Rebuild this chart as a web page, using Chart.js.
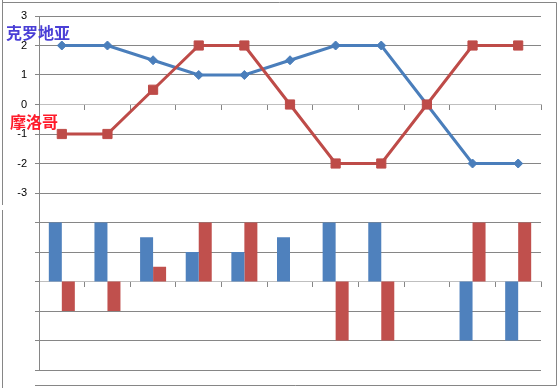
<!DOCTYPE html>
<html>
<head>
<meta charset="utf-8">
<script src="https://cdn.jsdelivr.net/npm/chart.js@4/dist/chart.umd.min.js"></script>
<style>
    html, body { margin: 0; padding: 0; background: #fff; }
    #wrap { position: relative; width: 560px; height: 388px; }
</style>
</head>
<body>
<div id="wrap"><canvas id="match_chart" width="560" height="388"></canvas></div>
<script>
// 11 jogos / pontos
var categories = ["1", "2", "3", "4", "5", "6", "7", "8", "9", "10", "11"];
var croatia = [2, 2, 1.5, 1, 1, 1.5, 2, 2, 0, -2, -2];
var morocco = [-1, -1, 0.5, 2, 2, 0, -2, -2, 0, 2, 2];
var yTicks = [-3, -2, -1, 0, 1, 2, 3];
var seriesNames = ["克罗地亚", "摩洛哥"];

var gridGray = '#868686';

// desenha moldura e nomes das equipas
var frame = {
    id: 'frame',
    afterDraw: function (chart) {
        var ctx = chart.ctx;
        ctx.save();
        ctx.strokeStyle = gridGray;
        ctx.lineWidth = 1;
        ctx.beginPath();
        ctx.moveTo(2.5, 0); ctx.lineTo(2.5, 205);
        ctx.moveTo(2.5, 210); ctx.lineTo(2.5, 388);
        ctx.moveTo(2, 2.5); ctx.lineTo(556.5, 2.5);
        ctx.lineTo(556.5, 385.5);
        ctx.lineTo(35, 385.5);
        ctx.stroke();

        ctx.font = 'bold 16px "Noto Sans CJK SC"';
        ctx.textBaseline = 'middle';
        ctx.textAlign = 'left';
        ctx.fillStyle = '#4a3fd6';
        ctx.fillText(seriesNames[0], 6, 33);
        ctx.fillStyle = '#ff1a2a';
        ctx.fillText(seriesNames[1], 10, 122);
        ctx.restore();
    }
};

var ctx = document.getElementById("match_chart").getContext('2d');

var myChart = new Chart(ctx, {
    data: {
        labels: categories,
        datasets: [{
            type: 'line',
            label: seriesNames[0],
            data: croatia,
            yAxisID: 'y',
            borderColor: '#4a7ebb',
            backgroundColor: '#4a7ebb',
            borderWidth: 3,
            pointStyle: 'rectRot',
            pointRadius: 4.5,
            pointBorderWidth: 1,
            tension: 0,
            order: 1
        }, {
            type: 'line',
            label: seriesNames[1],
            data: morocco,
            yAxisID: 'y',
            borderColor: '#be4b48',
            backgroundColor: '#be4b48',
            borderWidth: 3,
            pointStyle: 'rect',
            pointRadius: 6.5,
            pointBorderWidth: 1,
            tension: 0,
            order: 0
        }, {
            type: 'bar',
            label: seriesNames[0],
            data: croatia,
            yAxisID: 'yb',
            backgroundColor: '#4f81bd',
            categoryPercentage: 0.57,
            barPercentage: 1,
            order: 2
        }, {
            type: 'bar',
            label: seriesNames[1],
            data: morocco,
            yAxisID: 'yb',
            backgroundColor: '#c0504d',
            categoryPercentage: 0.57,
            barPercentage: 1,
            order: 2
        }]
    },
    options: {
        responsive: false,
        animation: false,
        devicePixelRatio: 1,
        layout: { padding: { left: 0, right: 19, top: 16, bottom: 18 } },
        plugins: { legend: { display: false }, tooltip: { enabled: false } },
        scales: {
            x: {
                type: 'category',
                position: { y: 0 },
                offset: true,
                grid: { offset: true, drawOnChartArea: false, drawTicks: true, tickLength: 5, color: gridGray },
                border: { color: '#bfbfbf' },
                ticks: { display: false }
            },
            x2: {
                type: 'category',
                position: { y: -6 },
                offset: true,
                grid: { offset: true, drawOnChartArea: false, drawTicks: true, tickLength: 5, color: gridGray },
                border: { color: '#bfbfbf' },
                ticks: { display: false }
            },
            y: {
                position: 'left',
                min: -9,
                max: 3,
                afterFit: function (s) { s.width = 39; },
                grid: { color: gridGray, tickLength: 4 },
                border: { color: gridGray },
                ticks: {
                    stepSize: 1,
                    autoSkip: false,
                    maxTicksLimit: 20,
                    padding: 8,
                    color: '#000',
                    font: { family: '"Liberation Sans", Arial', size: 11 },
                    callback: function (v) { return yTicks.indexOf(v) >= 0 ? String(v) : ''; }
                }
            },
            yb: {
                display: false,
                min: -3,
                max: 9
            }
        }
    },
    plugins: [frame]
});
</script>
</body>
</html>
